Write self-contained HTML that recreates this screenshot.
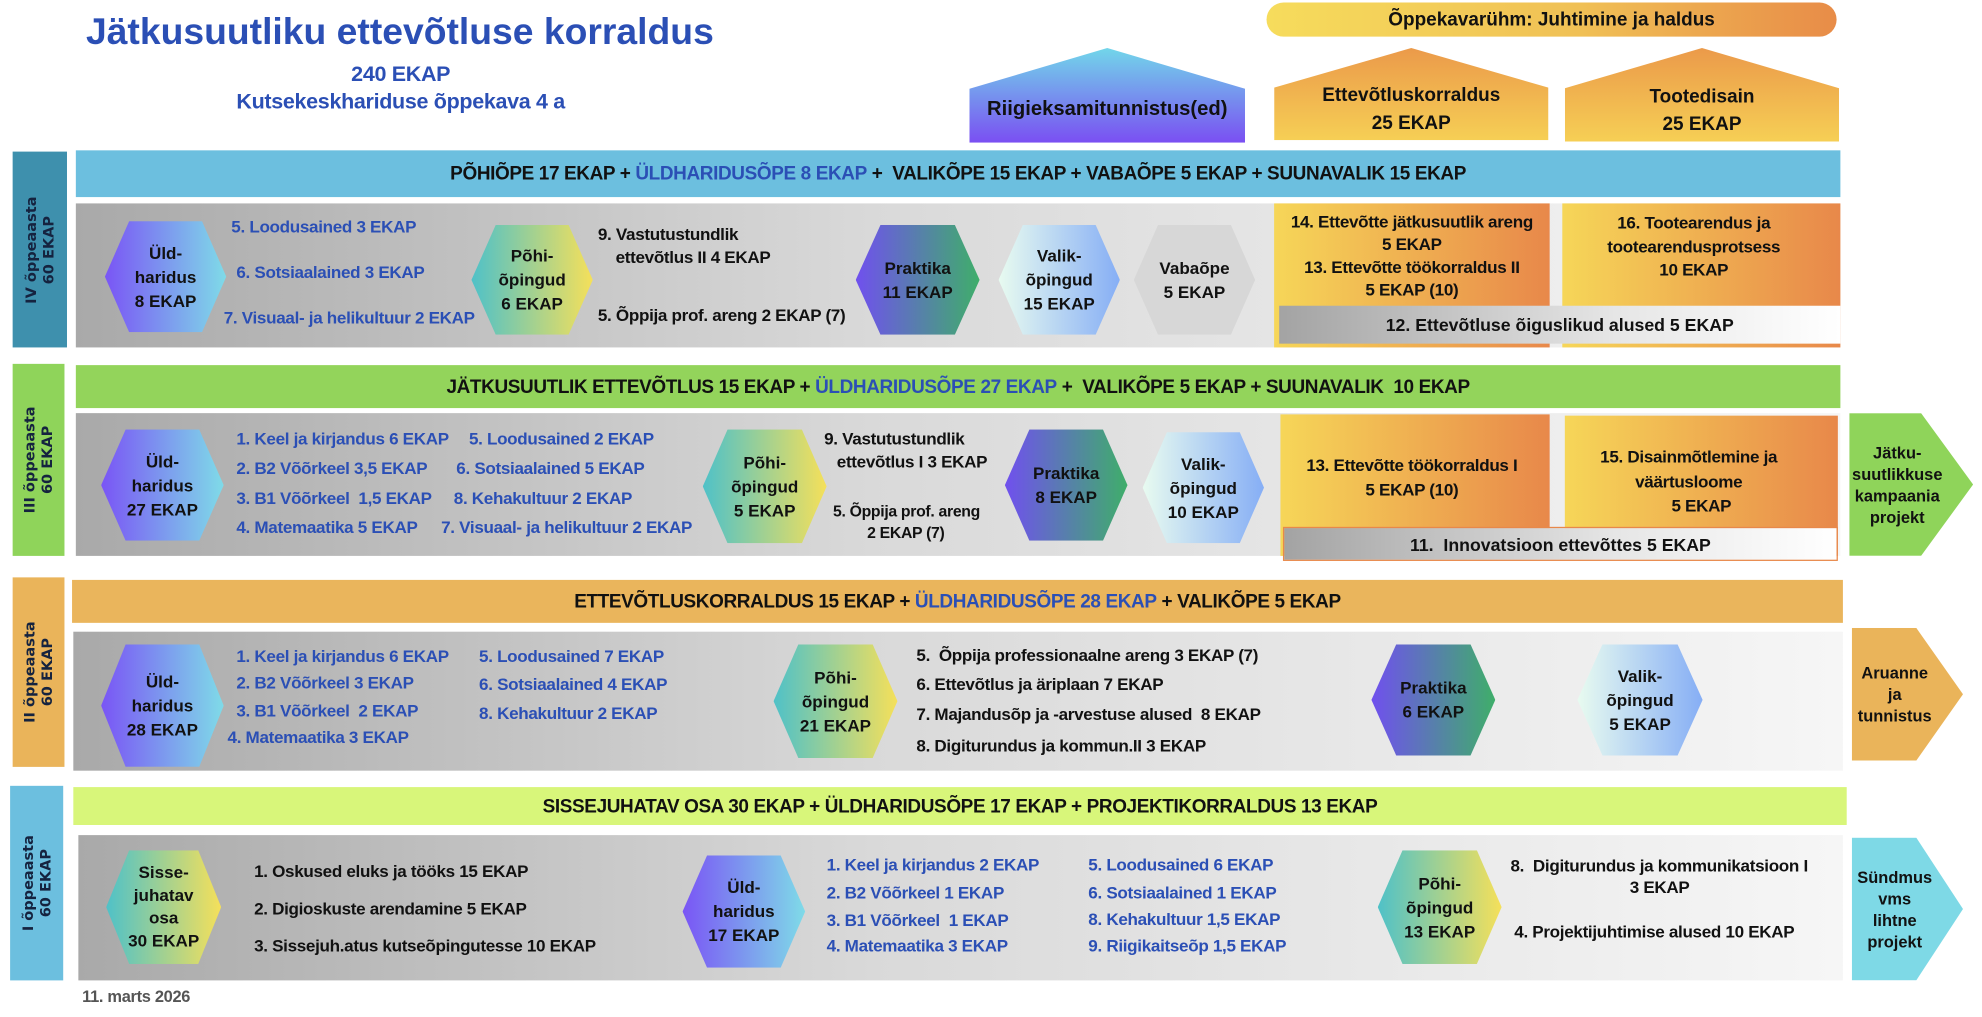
<!DOCTYPE html>
<html><head><meta charset="utf-8"><style>
html,body{margin:0;padding:0;background:#fff;overflow:hidden}
body{width:1982px;height:1017px;position:relative}
#s{position:absolute;left:0;top:0;width:1568px;height:805px;transform:scale(1.264,1.2634);transform-origin:0 0;font-family:"Liberation Sans Narrow","Liberation Sans",sans-serif;font-weight:bold}
.a{position:absolute}
.t{position:absolute;white-space:nowrap;font-size:13.5px;letter-spacing:-0.25px;line-height:16px;color:#111}
.b{color:#2b4fb5}
.c{text-align:center;transform:translateX(-50%)}
.hex{position:absolute;clip-path:polygon(20% 0,80% 0,100% 50%,80% 100%,20% 100%,0 50%);display:flex;align-items:center;justify-content:center;text-align:center;font-family:"Liberation Sans",sans-serif;font-size:13.5px;line-height:19px;color:#111}
.ud{background:linear-gradient(90deg,#7a55f5,#7fdbe8)}
.po{background:linear-gradient(90deg,#4fc1c8,#f5e05a)}
.pr{background:linear-gradient(90deg,#7050ee,#3fae6a)}
.va{background:linear-gradient(90deg,#e8fbf0,#86aef5)}
.side{position:absolute;display:flex;align-items:center;justify-content:center}
.side span{transform:rotate(-90deg);white-space:nowrap;text-align:center;font-family:"DejaVu Sans",sans-serif;font-weight:bold;font-size:11.5px;line-height:14px;color:#15233f}
.hdr{position:absolute;display:flex;align-items:center;justify-content:center;font-size:15px;letter-spacing:-0.3px;color:#111;white-space:nowrap}
.cont{position:absolute;background:linear-gradient(90deg,#a9a9a9,#d9d9d9 45%,#f6f6f6)}
.or{position:absolute;background:linear-gradient(90deg,#f6d658,#e8884a)}
.gb{position:absolute;background:linear-gradient(90deg,#a3a3a3,#e6e6e6 60%,#fff);display:flex;align-items:center;justify-content:center;font-size:14px;color:#111}
.chev{position:absolute;clip-path:polygon(0 0,58% 0,100% 50%,58% 100%,0 100%);display:flex;align-items:center;font-size:13px;line-height:17px;color:#111;text-align:center}
.pent{position:absolute;clip-path:polygon(50% 0,100% 43%,100% 100%,0 100%,0 43%);display:flex;flex-direction:column;align-items:center;justify-content:flex-end;text-align:center;color:#111;font-size:15px;line-height:22px}
</style></head><body><div id="s">

<div class="t b" style="left:68px;top:10px;font-size:29.5px;letter-spacing:0;line-height:32px;color:#2b4fb5">Jätkusuutliku ettevõtluse korraldus</div>
<div class="t b c" style="left:317px;top:49px;font-size:17px;line-height:19px">240 EKAP</div>
<div class="t b c" style="left:317px;top:71px;font-size:17px;line-height:19px">Kutsekeskhariduse õppekava 4 a</div>

<div class="a" style="left:1002px;top:2px;width:451px;height:27px;border-radius:14px;background:linear-gradient(90deg,#f6dc5c,#f0c055 55%,#e88c48);display:flex;align-items:center;justify-content:center;font-size:15px;color:#111">Õppekavarühm: Juhtimine ja haldus</div>

<div class="pent" style="left:767px;top:38px;width:218px;height:75px;background:linear-gradient(180deg,#72d6ea,#7a4ff2)"><div style="padding-bottom:15px;font-size:16px">Riigieksamitunnistus(ed)</div></div>
<div class="pent" style="left:1008px;top:38px;width:217px;height:73px;background:linear-gradient(180deg,#eb9a4a,#f6cf55)"><div style="padding-bottom:2px">Ettevõtluskorraldus<br>25 EKAP</div></div>
<div class="pent" style="left:1238px;top:38px;width:217px;height:74px;background:linear-gradient(180deg,#eb9a4a,#f6cf55)"><div style="padding-bottom:2px">Tootedisain<br>25 EKAP</div></div>

<!-- ROW IV -->
<div class="side" style="left:10px;top:120px;width:43px;height:155px;background:#3e90ad"><span>IV õppeaasta<br>60 EKAP</span></div>
<div class="hdr" style="left:60px;top:119px;width:1396px;height:37px;background:#6cbfdf">PÕHIÕPE 17 EKAP +&nbsp;<span class="b">ÜLDHARIDUSÕPE 8 EKAP</span>&nbsp;+ &nbsp;VALIKÕPE 15 EKAP + VABAÕPE 5 EKAP + SUUNAVALIK 15 EKAP</div>
<div class="cont" style="left:60px;top:161px;width:1396px;height:114px"></div>
<div class="hex ud" style="left:83px;top:175px;width:96px;height:88px">Üld-<br>haridus<br>8 EKAP</div>
<div class="t b" style="left:183px;top:172px">5. Loodusained 3 EKAP</div>
<div class="t b" style="left:187px;top:208px">6. Sotsiaalained 3 EKAP</div>
<div class="t b" style="left:177px;top:244px">7. Visuaal- ja helikultuur 2 EKAP</div>
<div class="hex po" style="left:373px;top:178px;width:96px;height:87px">Põhi-<br>õpingud<br>6 EKAP</div>
<div class="t" style="left:473px;top:178px">9. Vastutustundlik</div>
<div class="t" style="left:487px;top:196px">ettevõtlus II 4 EKAP</div>
<div class="t" style="left:473px;top:242px">5. Õppija prof. areng 2 EKAP (7)</div>
<div class="hex pr" style="left:677px;top:178px;width:98px;height:87px">Praktika<br>11 EKAP</div>
<div class="hex va" style="left:790px;top:178px;width:96px;height:87px">Valik-<br>õpingud<br>15 EKAP</div>
<div class="hex" style="left:897px;top:178px;width:96px;height:87px;background:#d7d7d7">Vabaõpe<br>5 EKAP</div>
<div class="or" style="left:1008px;top:161px;width:218px;height:114px"></div>
<div class="t c" style="left:1117px;top:168px">14. Ettevõtte jätkusuutlik areng</div>
<div class="t c" style="left:1117px;top:186px">5 EKAP</div>
<div class="t c" style="left:1117px;top:204px">13. Ettevõtte töökorraldus II</div>
<div class="t c" style="left:1117px;top:222px">5 EKAP (10)</div>
<div class="or" style="left:1236px;top:161px;width:220px;height:114px"></div>
<div class="t c" style="left:1340px;top:169px">16. Tootearendus ja</div>
<div class="t c" style="left:1340px;top:188px">tootearendusprotsess</div>
<div class="t c" style="left:1340px;top:206px">10 EKAP</div>
<div class="gb" style="left:1012px;top:242px;width:444px;height:30px">12. Ettevõtluse õiguslikud alused 5 EKAP</div>

<!-- ROW III -->
<div class="side" style="left:10px;top:288px;width:41px;height:152px;background:#8fd45a"><span>III õppeaasta<br>60 EKAP</span></div>
<div class="hdr" style="left:60px;top:289px;width:1396px;height:34px;background:#93d45b">JÄTKUSUUTLIK ETTEVÕTLUS 15 EKAP +&nbsp;<span class="b">ÜLDHARIDUSÕPE 27 EKAP</span>&nbsp;+ &nbsp;VALIKÕPE 5 EKAP + SUUNAVALIK &nbsp;10 EKAP</div>
<div class="cont" style="left:60px;top:327px;width:1396px;height:113px"></div>
<div class="hex ud" style="left:80px;top:340px;width:97px;height:88px">Üld-<br>haridus<br>27 EKAP</div>
<div class="t b" style="left:187px;top:340px">1. Keel ja kirjandus 6 EKAP</div>
<div class="t b" style="left:187px;top:363px">2. B2 Võõrkeel 3,5 EKAP</div>
<div class="t b" style="left:187px;top:387px">3. B1 Võõrkeel &nbsp;1,5 EKAP</div>
<div class="t b" style="left:187px;top:410px">4. Matemaatika 5 EKAP</div>
<div class="t b" style="left:371px;top:340px">5. Loodusained 2 EKAP</div>
<div class="t b" style="left:361px;top:363px">6. Sotsiaalained 5 EKAP</div>
<div class="t b" style="left:359px;top:387px">8. Kehakultuur 2 EKAP</div>
<div class="t b" style="left:349px;top:410px">7. Visuaal- ja helikultuur 2 EKAP</div>
<div class="hex po" style="left:556px;top:340px;width:98px;height:90px">Põhi-<br>õpingud<br>5 EKAP</div>
<div class="t" style="left:652px;top:340px">9. Vastutustundlik</div>
<div class="t" style="left:662px;top:358px">ettevõtlus I 3 EKAP</div>
<div class="t" style="left:659px;top:397px;font-size:12.5px">5. Õppija prof. areng</div>
<div class="t" style="left:686px;top:414px;font-size:12.5px">2 EKAP (7)</div>
<div class="hex pr" style="left:795px;top:340px;width:97px;height:88px">Praktika<br>8 EKAP</div>
<div class="hex va" style="left:904px;top:342px;width:96px;height:88px">Valik-<br>õpingud<br>10 EKAP</div>
<div class="or" style="left:1013px;top:328px;width:213px;height:112px"></div>
<div class="t c" style="left:1117px;top:361px">13. Ettevõtte töökorraldus I</div>
<div class="t c" style="left:1117px;top:380px">5 EKAP (10)</div>
<div class="or" style="left:1238px;top:329px;width:216px;height:111px"></div>
<div class="t c" style="left:1336px;top:354px">15. Disainmõtlemine ja</div>
<div class="t c" style="left:1336px;top:374px">väärtusloome</div>
<div class="t c" style="left:1346px;top:393px">5 EKAP</div>
<div class="gb" style="left:1015px;top:417px;width:439px;height:27px;border:1px solid #e8884a;box-sizing:border-box">11. &nbsp;Innovatsioon ettevõttes 5 EKAP</div>
<div class="chev" style="left:1463px;top:327px;width:98px;height:113px;background:#8fd45a"><div style="width:76px">Jätku-<br>suutlikkuse<br>kampaania<br>projekt</div></div>

<!-- ROW II -->
<div class="side" style="left:10px;top:457px;width:41px;height:150px;background:#eab45a"><span>II õppeaasta<br>60 EKAP</span></div>
<div class="hdr" style="left:57px;top:459px;width:1401px;height:34px;background:#eab55c">ETTEVÕTLUSKORRALDUS 15 EKAP +&nbsp;<span class="b">ÜLDHARIDUSÕPE 28 EKAP</span>&nbsp;+ VALIKÕPE 5 EKAP</div>
<div class="cont" style="left:58px;top:500px;width:1400px;height:110px"></div>
<div class="hex ud" style="left:80px;top:510px;width:97px;height:97px">Üld-<br>haridus<br>28 EKAP</div>
<div class="t b" style="left:187px;top:512px">1. Keel ja kirjandus 6 EKAP</div>
<div class="t b" style="left:187px;top:533px">2. B2 Võõrkeel 3 EKAP</div>
<div class="t b" style="left:187px;top:555px">3. B1 Võõrkeel &nbsp;2 EKAP</div>
<div class="t b" style="left:180px;top:576px">4. Matemaatika 3 EKAP</div>
<div class="t b" style="left:379px;top:512px">5. Loodusained 7 EKAP</div>
<div class="t b" style="left:379px;top:534px">6. Sotsiaalained 4 EKAP</div>
<div class="t b" style="left:379px;top:557px">8. Kehakultuur 2 EKAP</div>
<div class="hex po" style="left:612px;top:510px;width:98px;height:90px">Põhi-<br>õpingud<br>21 EKAP</div>
<div class="t" style="left:725px;top:511px">5. &nbsp;Õppija professionaalne areng 3 EKAP (7)</div>
<div class="t" style="left:725px;top:534px">6. Ettevõtlus ja äriplaan 7 EKAP</div>
<div class="t" style="left:725px;top:558px">7. Majandusõp ja -arvestuse alused &nbsp;8 EKAP</div>
<div class="t" style="left:725px;top:583px">8. Digiturundus ja kommun.II 3 EKAP</div>
<div class="hex pr" style="left:1085px;top:510px;width:98px;height:88px">Praktika<br>6 EKAP</div>
<div class="hex va" style="left:1248px;top:510px;width:99px;height:88px">Valik-<br>õpingud<br>5 EKAP</div>
<div class="chev" style="left:1465px;top:497px;width:88px;height:105px;background:#eab45a"><div style="width:68px">Aruanne<br>ja<br>tunnistus</div></div>

<!-- ROW I -->
<div class="side" style="left:8px;top:622px;width:42px;height:154px;background:#6cbfdf"><span>I õppeaasta<br>60 EKAP</span></div>
<div class="hdr" style="left:58px;top:623px;width:1403px;height:30px;background:#d8f67a">SISSEJUHATAV OSA 30 EKAP + ÜLDHARIDUSÕPE 17 EKAP + PROJEKTIKORRALDUS 13 EKAP</div>
<div class="cont" style="left:62px;top:661px;width:1396px;height:115px"></div>
<div class="hex po" style="left:84px;top:673px;width:91px;height:90px;line-height:18px">Sisse-<br>juhatav<br>osa<br>30 EKAP</div>
<div class="t" style="left:201px;top:682px">1. Oskused eluks ja tööks 15 EKAP</div>
<div class="t" style="left:201px;top:712px">2. Digioskuste arendamine 5 EKAP</div>
<div class="t" style="left:201px;top:741px">3. Sissejuh.atus kutseõpingutesse 10 EKAP</div>
<div class="hex ud" style="left:540px;top:677px;width:97px;height:89px">Üld-<br>haridus<br>17 EKAP</div>
<div class="t b" style="left:654px;top:677px">1. Keel ja kirjandus 2 EKAP</div>
<div class="t b" style="left:654px;top:699px">2. B2 Võõrkeel 1 EKAP</div>
<div class="t b" style="left:654px;top:721px">3. B1 Võõrkeel &nbsp;1 EKAP</div>
<div class="t b" style="left:654px;top:741px">4. Matemaatika 3 EKAP</div>
<div class="t b" style="left:861px;top:677px">5. Loodusained 6 EKAP</div>
<div class="t b" style="left:861px;top:699px">6. Sotsiaalained 1 EKAP</div>
<div class="t b" style="left:861px;top:720px">8. Kehakultuur 1,5 EKAP</div>
<div class="t b" style="left:861px;top:741px">9. Riigikaitseõp 1,5 EKAP</div>
<div class="hex po" style="left:1090px;top:673px;width:98px;height:90px">Põhi-<br>õpingud<br>13 EKAP</div>
<div class="t" style="left:1195px;top:678px">8. &nbsp;Digiturundus ja kommunikatsioon I</div>
<div class="t c" style="left:1313px;top:695px">3 EKAP</div>
<div class="t" style="left:1198px;top:730px">4. Projektijuhtimise alused 10 EKAP</div>
<div class="chev" style="left:1465px;top:663px;width:88px;height:113px;background:#7ed9e6"><div style="width:68px">Sündmus<br>vms<br>lihtne<br>projekt</div></div>

<div class="t" style="left:65px;top:781px;font-size:13px;color:#555">11. marts 2026</div>
</div></body></html>
